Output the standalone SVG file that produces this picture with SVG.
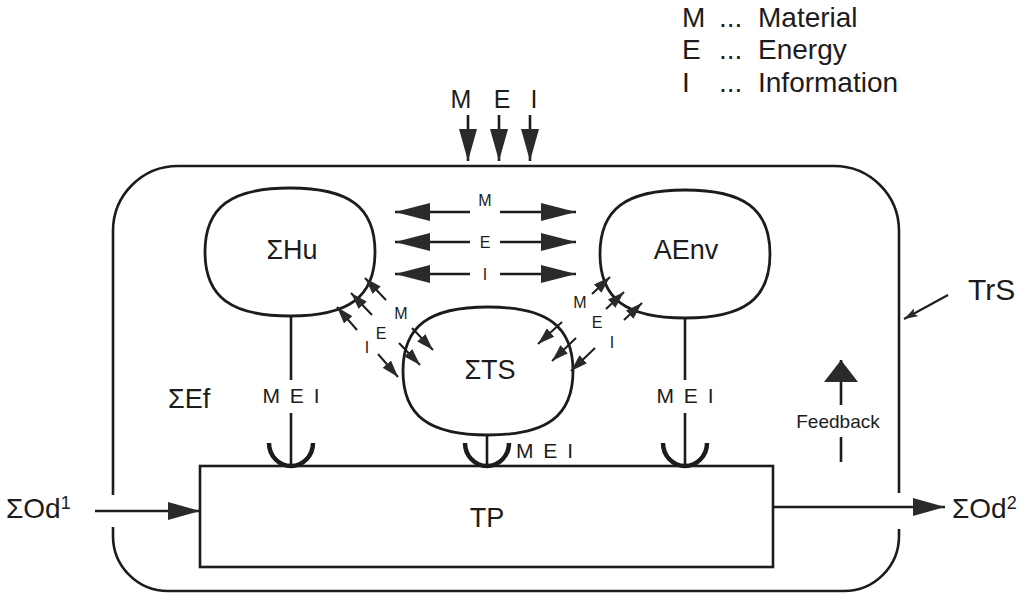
<svg xmlns="http://www.w3.org/2000/svg" width="1036" height="596" viewBox="0 0 1036 596">
<style>
.ln{fill:none;stroke:#1c1c1c;stroke-width:2.6;stroke-linecap:butt}
.thin{fill:none;stroke:#1c1c1c;stroke-width:2}
.cup{fill:none;stroke:#1c1c1c;stroke-width:4.5}
.blob{fill:#fff;stroke:#1c1c1c;stroke-width:2.8}
.t{font-family:"Liberation Sans",Arial,sans-serif;fill:#1c1c1c}
.big{font-size:27px}
.leg{font-size:28px}
.mid{font-size:21px}
.sm{font-size:16px}
</style>
<defs>
<marker id="ahBig" viewBox="0 0 35 18" refX="35" refY="9" markerWidth="35" markerHeight="18" markerUnits="userSpaceOnUse" orient="auto"><path d="M0,0 L35,9 L0,18 Z" fill="#2a2a2a"/></marker>
<marker id="ahMed" viewBox="0 0 32 18" refX="32" refY="9" markerWidth="32" markerHeight="18" markerUnits="userSpaceOnUse" orient="auto"><path d="M0,0 L32,9 L0,18 Z" fill="#2a2a2a"/></marker>
<marker id="ahSm" viewBox="0 0 17 11" refX="17" refY="5.5" markerWidth="17" markerHeight="11" markerUnits="userSpaceOnUse" orient="auto"><path d="M0,0 L17,5.5 L0,11 Z" fill="#2a2a2a"/></marker>
<marker id="ahFb" viewBox="0 0 22 34" refX="22" refY="17" markerWidth="22" markerHeight="34" markerUnits="userSpaceOnUse" orient="auto"><path d="M0,0 L22,17 L0,34 Z" fill="#2a2a2a"/></marker>
<marker id="ahTr" viewBox="0 0 14 9" refX="14" refY="4.5" markerWidth="14" markerHeight="9" markerUnits="userSpaceOnUse" orient="auto"><path d="M0,0 L14,4.5 L0,9 L3,4.5 Z" fill="#2a2a2a"/></marker>
</defs>
<rect width="1036" height="596" fill="#fff"/>

<g id="legend" class="t leg">
<text x="682" y="27">M</text><text x="719" y="27">...</text><text x="758" y="27">Material</text>
<text x="682" y="59">E</text><text x="719" y="59">...</text><text x="758" y="59">Energy</text>
<text x="682" y="92">I</text><text x="719" y="92">...</text><text x="758" y="92">Information</text>
</g>

<g id="TrS">
<path class="ln" d="M113,495 L113,231 A65,65 0 0 1 178,166 L834,166 A65,65 0 0 1 899,231 L899,493"/>
<path class="ln" d="M899,529 L899,536 A55,55 0 0 1 844,591 L168,591 A55,55 0 0 1 113,536 L113,527"/>
<text class="t" x="968" y="300" font-size="30">TrS</text>
</g>

<g id="SHu">
<path class="blob" d="M205,252 C205,207 231,188 290,188 C349,188 375,207 375,252 C375,297 349,316 290,316 C231,316 205,297 205,252 Z"/>
<text class="t big" x="292" y="259" text-anchor="middle">ΣHu</text>
</g>
<g id="AEnv">
<path class="blob" d="M600,254 C600,209 626,190 685,190 C744,190 770,209 770,254 C770,299 744,318 685,318 C626,318 600,299 600,254 Z"/>
<text class="t big" x="686" y="259" text-anchor="middle">AEnv</text>
</g>
<g id="STS">
<path class="blob" d="M403,371 C403,326 429,307 488,307 C547,307 573,326 573,371 C573,416 547,435 488,435 C429,435 403,416 403,371 Z"/>
<text class="t big" x="490" y="379" text-anchor="middle">ΣTS</text>
</g>
<g id="TP">
<rect class="ln" x="200" y="466" width="573" height="101" fill="#fff"/>
<text class="t big" x="487" y="527" text-anchor="middle">TP</text>
</g>
<g id="SEf"><text class="t big" x="168" y="408">ΣEf</text></g>
<g id="SOd1"><text class="t" x="6" y="518" font-size="28">ΣOd<tspan font-size="18" dy="-9">1</tspan></text></g>
<g id="SOd2"><text class="t" x="952" y="518" font-size="28">ΣOd<tspan font-size="18" dy="-9">2</tspan></text></g>

<g id="connectors">
<line class="ln" x1="468" y1="115" x2="468" y2="161" marker-end="url(#ahMed)"/>
<line class="ln" x1="499" y1="115" x2="499" y2="161" marker-end="url(#ahMed)"/>
<line class="ln" x1="530" y1="115" x2="530" y2="161" marker-end="url(#ahMed)"/>
<line class="ln" x1="470" y1="212" x2="395" y2="212" marker-end="url(#ahBig)"/>
<line class="ln" x1="500" y1="212" x2="576" y2="212" marker-end="url(#ahBig)"/>
<line class="ln" x1="470" y1="242" x2="395" y2="242" marker-end="url(#ahBig)"/>
<line class="ln" x1="500" y1="242" x2="576" y2="242" marker-end="url(#ahBig)"/>
<line class="ln" x1="470" y1="274" x2="395" y2="274" marker-end="url(#ahBig)"/>
<line class="ln" x1="500" y1="274" x2="576" y2="274" marker-end="url(#ahBig)"/>
<line class="thin" x1="386" y1="300" x2="365" y2="278" marker-end="url(#ahSm)"/>
<line class="thin" x1="412" y1="328" x2="433" y2="350" marker-end="url(#ahSm)"/>
<line class="thin" x1="372" y1="315" x2="351" y2="293" marker-end="url(#ahSm)"/>
<line class="thin" x1="399" y1="343" x2="420" y2="365" marker-end="url(#ahSm)"/>
<line class="thin" x1="357" y1="330" x2="337" y2="307" marker-end="url(#ahSm)"/>
<line class="thin" x1="378" y1="354" x2="398" y2="377" marker-end="url(#ahSm)"/>
<line class="thin" x1="592" y1="294" x2="610" y2="277" marker-end="url(#ahSm)"/>
<line class="thin" x1="562" y1="322" x2="538" y2="344" marker-end="url(#ahSm)"/>
<line class="thin" x1="606" y1="309" x2="624" y2="292" marker-end="url(#ahSm)"/>
<line class="thin" x1="576" y1="338" x2="552" y2="361" marker-end="url(#ahSm)"/>
<line class="thin" x1="624" y1="320" x2="642" y2="303" marker-end="url(#ahSm)"/>
<line class="thin" x1="595" y1="348" x2="571" y2="371" marker-end="url(#ahSm)"/>
<line class="ln" x1="291" y1="316" x2="291" y2="380"/>
<line class="ln" x1="291" y1="413" x2="291" y2="467"/>
<line class="ln" x1="685" y1="318" x2="685" y2="380"/>
<line class="ln" x1="685" y1="413" x2="685" y2="467"/>
<line class="ln" x1="487" y1="435" x2="487" y2="467"/>
<path class="cup" d="M269,443 A22,23 0 0 0 313,443"/>
<path class="cup" d="M465,443 A22,23 0 0 0 509,443"/>
<path class="cup" d="M663,443 A22,23 0 0 0 707,443"/>
<line class="ln" x1="95" y1="511" x2="200" y2="511" marker-end="url(#ahMed)"/>
<line class="ln" x1="773" y1="507" x2="945" y2="507" marker-end="url(#ahMed)"/>
<line class="ln" x1="841" y1="405" x2="841" y2="360" marker-end="url(#ahFb)"/>
<line class="ln" x1="841" y1="437" x2="841" y2="462"/>
<line class="thin" x1="948" y1="295" x2="904" y2="319" marker-end="url(#ahTr)"/>
</g>

<g id="labels" class="t">
<text x="461" y="108" text-anchor="middle" font-size="25">M</text>
<text x="502" y="108" text-anchor="middle" font-size="25">E</text>
<text x="534" y="108" text-anchor="middle" font-size="25">I</text>
<text class="sm" x="485" y="206" text-anchor="middle">M</text>
<text class="sm" x="485" y="248" text-anchor="middle">E</text>
<text class="sm" x="485" y="280" text-anchor="middle">I</text>
<text class="sm" x="401" y="319" text-anchor="middle">M</text>
<text class="sm" x="381" y="339" text-anchor="middle">E</text>
<text class="sm" x="367" y="353" text-anchor="middle">I</text>
<text class="sm" x="580" y="308" text-anchor="middle">M</text>
<text class="sm" x="597" y="328" text-anchor="middle">E</text>
<text class="sm" x="612" y="348" text-anchor="middle">I</text>
<text class="mid" x="291" y="403" text-anchor="middle" word-spacing="4">M E I</text>
<text class="mid" x="685" y="403" text-anchor="middle" word-spacing="4">M E I</text>
<text class="mid" x="516" y="458" word-spacing="4">M E I</text>
<text x="838" y="428" text-anchor="middle" font-size="19">Feedback</text>
</g>
</svg>
